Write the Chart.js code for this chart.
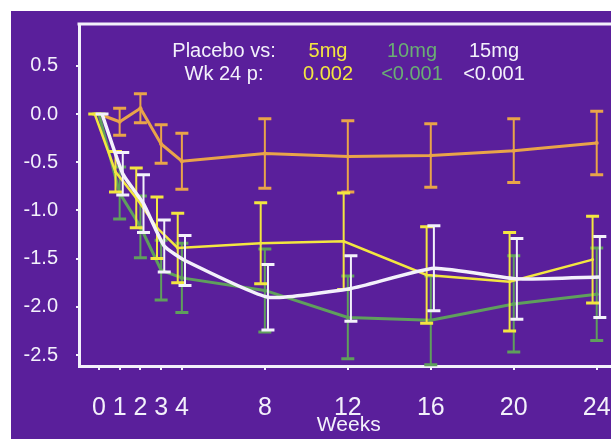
<!DOCTYPE html>
<html>
<head>
<meta charset="utf-8">
<script src="https://cdn.jsdelivr.net/npm/chart.js@4/dist/chart.umd.min.js"></script>
<style>
  html, body { margin: 0; padding: 0; background: #fff; overflow: hidden; }
  body { width: 611px; height: 439px; position: relative; }
  #wrap { position: absolute; left: 11px; top: 11px; width: 620px; height: 428px; background: #5a1f9b; }
</style>
</head>
<body>
<div id="wrap"><canvas id="chart" width="620" height="428"></canvas></div>
<script>
// Weeks on the x axis (also the tick labels)
const weeks = [0, 1, 2, 3, 4, 8, 12, 16, 20, 24];
const yTicks = [-2.5, -2.0, -1.5, -1.0, -0.5, 0.0, 0.5];

// Mean change from baseline, per arm
const placebo = [0, -0.08, 0.06, -0.31, -0.49, -0.41, -0.44, -0.43, -0.38, -0.30];
const dose5 = [0, -0.60, -0.87, -1.18, -1.39, -1.34, -1.32, -1.67, -1.74, -1.51];
const dose10 = [0, -0.82, -1.17, -1.62, -1.70, -1.83, -2.11, -2.14, -1.97, -1.87];
const dose15 = [0, -0.62, -0.93, -1.37, -1.52, -1.90, -1.81, -1.60, -1.71, -1.69];

// Error bar half widths
const placeboErr = [0, 0.14, 0.15, 0.20, 0.29, 0.36, 0.37, 0.33, 0.33, 0.33];
const dose5Err = [0, 0.21, 0.31, 0.32, 0.36, 0.42, 0.50, 0.50, 0.51, 0.45];
const dose10Err = [0, 0.27, 0.32, 0.31, 0.36, 0.43, 0.43, 0.46, 0.50, 0.48];
const dose15Err = [0, 0.22, 0.30, 0.27, 0.26, 0.34, 0.34, 0.44, 0.42, 0.42];

// Legend text in the plot
const legendHeads = ['Placebo vs:', '5mg', '10mg', '15mg'];
const legendValues = ['Wk 24 p:', '0.002', '<0.001', '<0.001'];

const COLORS = {
  placebo: '#e9a449',
  dose5: '#f3e640',
  dose10: '#5f9f5c',
  dose15: '#f3f1fb',
  text: '#f3f1fb',
  green_text: '#6aae74'
};

// small sideways shift so bars of different arms don't sit on top of each other
function series(values, shift) {
  return weeks.map((w, i) => ({ x: w + shift, y: values[i] }));
}

const errorBars = {
  id: 'errorBars',
  afterDatasetDraw(chart, args) {
    const ds = chart.data.datasets[args.index];
    if (!ds.errors) return;
    const ctx = chart.ctx;
    const x = chart.scales.x, y = chart.scales.y;
    ctx.save();
    ctx.strokeStyle = ds.borderColor;
    ds.data.forEach((p, i) => {
      const e = ds.errors[i];
      const px = x.getPixelForValue(p.x);
      const top = y.getPixelForValue(p.y + e);
      const bot = y.getPixelForValue(p.y - e);
      ctx.lineWidth = 2;
      ctx.beginPath();
      ctx.moveTo(px, top);
      ctx.lineTo(px, bot);
      ctx.stroke();
      ctx.lineWidth = 3;
      ctx.beginPath();
      ctx.moveTo(px - 6.5, top); ctx.lineTo(px + 6.5, top);
      ctx.moveTo(px - 6.5, bot); ctx.lineTo(px + 6.5, bot);
      ctx.stroke();
    });
    ctx.restore();
  }
};

const frameAndText = {
  id: 'frameAndText',
  afterDraw(chart) {
    const ctx = chart.ctx;
    const area = chart.chartArea;
    ctx.save();
    // top frame line
    ctx.strokeStyle = COLORS.text;
    ctx.lineWidth = 3;
    ctx.beginPath();
    ctx.moveTo(area.left - 1.5, area.top);
    ctx.lineTo(area.right + 20, area.top);
    ctx.stroke();

    const cols = [213, 317, 401, 483];
    const colColors = [COLORS.text, COLORS.dose5, COLORS.green_text, COLORS.text];
    ctx.font = '20px "Liberation Sans", Arial, sans-serif';
    ctx.textAlign = 'center';
    ctx.textBaseline = 'alphabetic';
    cols.forEach((cx, i) => {
      ctx.fillStyle = colColors[i];
      ctx.fillText(legendHeads[i], cx, 46);
      ctx.fillText(legendValues[i], cx, 69);
    });
    ctx.restore();
  }
};

const chart = new Chart(document.getElementById('chart'), {
  type: 'line',
  data: {
    datasets: [
      {
        label: '15mg',
        data: series(dose15, 0.15),
        errors: dose15Err,
        borderColor: COLORS.dose15,
        borderWidth: 3.5,
        tension: 0.15,
        pointRadius: 0
      },
      {
        label: '5mg',
        data: series(dose5, -0.2),
        errors: dose5Err,
        borderColor: COLORS.dose5,
        borderWidth: 2.5,
        pointRadius: 1.5,
        pointBackgroundColor: COLORS.dose5,
        pointBorderWidth: 0
      },
      {
        label: '10mg',
        data: series(dose10, 0),
        errors: dose10Err,
        borderColor: COLORS.dose10,
        borderWidth: 3,
        pointRadius: 2,
        pointBackgroundColor: COLORS.dose10,
        pointBorderWidth: 0
      },
      {
        label: 'Placebo',
        data: series(placebo, 0),
        errors: placeboErr,
        borderColor: COLORS.placebo,
        borderWidth: 3,
        pointRadius: 2,
        pointBackgroundColor: COLORS.placebo,
        pointBorderWidth: 0
      }
    ]
  },
  options: {
    responsive: false,
    animation: false,
    layout: { padding: { left: 0, top: 13, right: 12.5, bottom: 0 } },
    plugins: {
      legend: { display: false },
      tooltip: { enabled: false }
    },
    scales: {
      x: {
        type: 'linear',
        min: -0.96,
        max: 25.05,
        afterBuildTicks: axis => { axis.ticks = weeks.map(v => ({ value: v })); },
        afterFit: scale => {
          scale.height = 73;
          scale.paddingLeft = 0;
          scale.paddingRight = 0;
        },
        ticks: {
          autoSkip: false,
          maxRotation: 0,
          color: COLORS.text,
          padding: 23,
          font: { family: '"Liberation Sans Narrow", "Arial Narrow", "Liberation Sans", sans-serif', size: 25 }
        },
        grid: { drawOnChartArea: false, tickLength: 4, color: COLORS.text, lineWidth: 2 },
        border: { color: COLORS.text, width: 3 },
        title: {
          display: true,
          text: 'Weeks',
          color: COLORS.text,
          padding: { top: 0, bottom: 1 },
          font: { family: '"Liberation Sans", Arial, sans-serif', size: 21 }
        }
      },
      y: {
        min: -2.614,
        max: 0.934,
        afterBuildTicks: axis => { axis.ticks = yTicks.map(v => ({ value: v })); },
        afterFit: scale => {
          scale.width = 68;
          scale.paddingTop = 0;
          scale.paddingBottom = 0;
        },
        ticks: {
          color: COLORS.text,
          padding: 18,
          font: { family: '"Liberation Sans", Arial, sans-serif', size: 20 },
          callback: v => v.toFixed(1)
        },
        grid: { drawOnChartArea: false, tickLength: 3, color: COLORS.text, lineWidth: 2 },
        border: { color: COLORS.text, width: 3 }
      }
    }
  },
  plugins: [errorBars, frameAndText]
});
</script>
</body>
</html>
